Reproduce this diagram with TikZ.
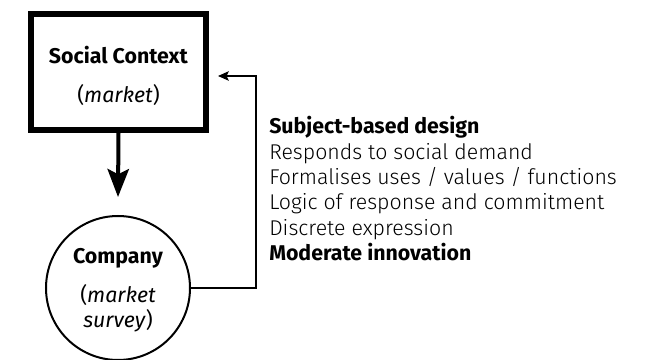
\documentclass[tikz,border=0pt]{standalone}
\usepackage{fontspec}
\setmainfont{Fira Sans}
\newfontfamily\lightfont{Fira Sans Light}
\usetikzlibrary{arrows.meta,calc}

\tikzset{
  contextbox/.style={draw, line width=4.5pt, minimum width=131pt, minimum height=87pt, align=center, font=\fontsize{16}{19}\selectfont},
  companycircle/.style={draw, circle, line width=1.5pt, minimum size=108pt, align=center, font=\fontsize{16}{19}\selectfont},
  mainflow/.style={line width=3pt, -{Stealth[length=21pt, width=16pt, inset=4pt]}},
  feedback/.style={line width=1.5pt, -{Stealth[length=8pt, width=7pt, inset=1.5pt]}},
}

\begin{document}
\begin{tikzpicture}[x=0.75pt, y=-0.75pt]
\useasboundingbox (0,0) rectangle (662,360);

% social context and the company
\node[contextbox] (social) at (118.5,72) {\rule{0pt}{19pt}\textbf{Social Context}\\[10pt](\textit{market})};
\node[companycircle] (company) at (118,288) {\rule{0pt}{15pt}\textbf{Company}\\[10pt](\textit{market}\\\textit{survey})};

% downward push from the market
\coordinate (push) at (118,197);
\draw[mainflow] (social.south) -- (push);

% feedback loop back to the market
\coordinate (loop) at (256,76);
\coordinate (back) at (218,76);
\draw[feedback, line join=miter] (company.east) -| (loop) -- (back);

% design characteristics
\node[anchor=north west, inner sep=0pt, align=left, font=\lightfont\fontsize{16}{19.1}\selectfont] (traits) at (269,116)
  {{\normalfont\bfseries Subject-based design}\\
   Responds to social demand\\
   Formalises uses / values / functions\\
   Logic of response and commitment\\
   Discrete expression\\
   {\normalfont\bfseries Moderate innovation}};

\end{tikzpicture}
\end{document}
